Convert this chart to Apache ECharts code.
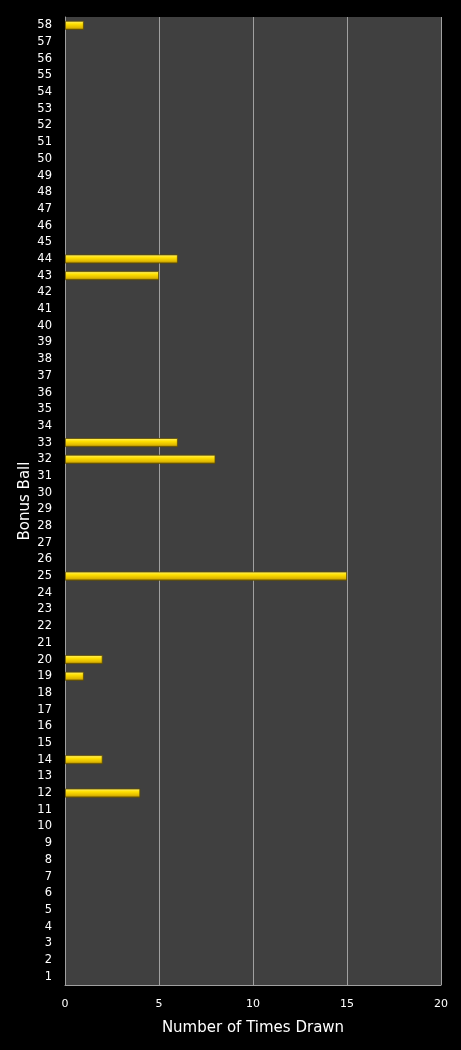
<!DOCTYPE html>
<html><head><meta charset="utf-8">
<script src="https://cdn.jsdelivr.net/npm/echarts@6/dist/echarts.min.js"></script>
<style>html,body{margin:0;padding:0;background:#000;}#c{width:461px;height:1050px;}</style>
</head><body><div id="c"></div>
<script>
const categories = [];
for (let i = 1; i <= 58; i++) categories.push(String(i));
const drawnBalls = ["12","14","19","20","25","32","33","43","44","58"];
const drawnCounts = [4,2,1,2,15,8,6,5,6,1];
const xTicks = [0,5,10,15,20];
const values = categories.map(c => { const k = drawnBalls.indexOf(c); return k >= 0 ? drawnCounts[k] : null; });

const chart = echarts.init(document.getElementById('c'));
chart.setOption({
  backgroundColor: '#000',
  animation: false,
  grid: { left: 65, right: 20, top: 17, bottom: 65, show: true, backgroundColor: '#404040', borderWidth: 0 },
  xAxis: {
    type: 'value', min: 0, max: 20, interval: 5,
    name: 'Number of Times Drawn', nameLocation: 'middle', nameGap: 36,
    nameTextStyle: { color: '#fff', fontSize: 15, fontFamily: 'DejaVu Sans' },
    axisLine: { show: true, lineStyle: { color: '#a0a0a0', width: 1 } },
    axisTick: { show: false },
    axisLabel: { color: '#fff', fontSize: 11, fontFamily: 'DejaVu Sans', margin: 14 },
    splitLine: { show: true, lineStyle: { color: '#a0a0a0', width: 1 } }
  },
  yAxis: {
    type: 'category', data: categories,
    name: 'Bonus Ball', nameLocation: 'middle', nameGap: 32, nameMoveOverlap: false,
    nameTextStyle: { color: '#fff', fontSize: 15, fontFamily: 'DejaVu Sans' },
    axisLine: { show: true, lineStyle: { color: '#a0a0a0', width: 1 } },
    axisTick: { show: false },
    axisLabel: { color: '#fff', fontSize: 11.5, fontFamily: 'DejaVu Sans', interval: 0, margin: 13 },
    splitLine: { show: false }
  },
  series: [{
    type: 'bar', data: values, barWidth: 9,
    itemStyle: {
      color: new echarts.graphic.LinearGradient(0, 0, 0, 1, [
        { offset: 0, color: '#fff27a' },
        { offset: 0.35, color: '#ffe000' },
        { offset: 0.75, color: '#e0b800' },
        { offset: 1, color: '#8a6e00' }
      ]),
      borderColor: '#5e4c00', borderWidth: 0.8
    }
  }]
});
</script></body></html>
